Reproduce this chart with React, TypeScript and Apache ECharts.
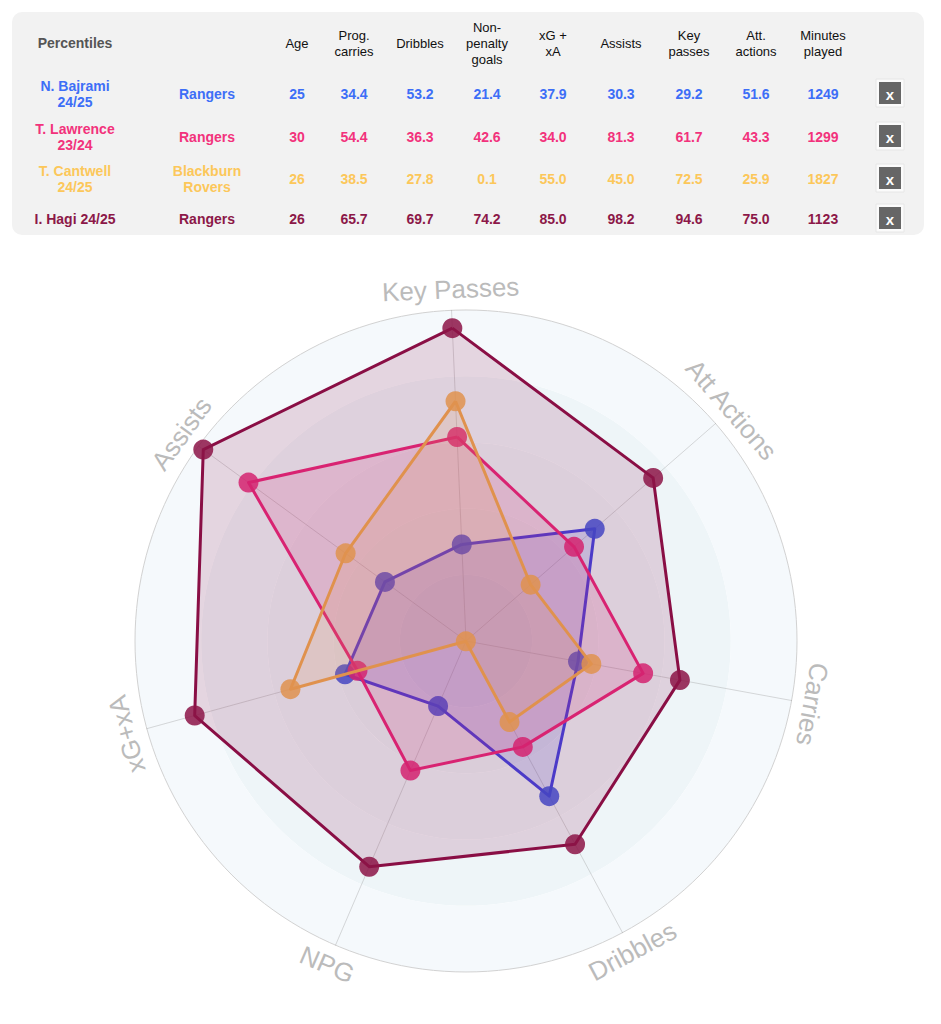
import React, { useEffect, useRef } from "react";
import * as echarts from "echarts";

// ---------- data ----------
const players = ["N. Bajrami\n24/25", "T. Lawrence\n23/24", "T. Cantwell\n24/25", "I. Hagi 24/25"];
const teams = ["Rangers", "Rangers", "Blackburn\nRovers", "Rangers"];
const ages = [25, 30, 26, 26];
const progCarries = [34.4, 54.4, 38.5, 65.7];
const dribbles = [53.2, 36.3, 27.8, 69.7];
const npg = [21.4, 42.6, 0.1, 74.2];
const xgxa = [37.9, 34.0, 55.0, 85.0];
const assists = [30.3, 81.3, 45.0, 98.2];
const keyPasses = [29.2, 61.7, 72.5, 94.6];
const attActions = [51.6, 43.3, 25.9, 75.0];
const minutes = [1249, 1299, 1827, 1123];
const headers = ["Age", "Prog.\ncarries", "Dribbles", "Non-\npenalty\ngoals", "xG +\nxA", "Assists", "Key\npasses", "Att.\nactions", "Minutes\nplayed"];
const radarNames = ["Key Passes", "Assists", "xG+xA", "NPG", "Dribbles", "Carries", "Att Actions"];

// ---------- styling ----------
const textColors = ["#3d6ef7", "#f2327c", "#fcc75a", "#8c1848"];
const lineColors = ["#4144e0", "#e8287a", "#f0aa50", "#8a0f45"];
const pointColors = ["rgba(58,80,216,0.85)", "rgba(226,40,120,0.85)", "rgba(240,170,80,0.85)", "rgba(140,20,70,0.85)"];
const areaColors = ["rgba(65,68,224,0.22)", "rgba(232,40,122,0.22)", "rgba(240,170,80,0.22)", "rgba(138,15,69,0.22)"];

const FONT = "'Liberation Sans', Arial, Helvetica, sans-serif";
const CX = 466;
const CY = 641;
const R = 331;
const START = 92.5;
const LABEL_R = 352;

const colX = [297, 354, 420, 487, 553, 621, 689, 756, 823];
const rowY = [94, 137, 179, 219];

function buildGraphic() {
  const g: any[] = [];
  g.push({
    type: "rect",
    shape: { x: 12, y: 12, width: 912, height: 223, r: 10 },
    style: { fill: "#f2f2f2" },
    silent: true,
  });
  g.push({
    type: "text",
    x: 75,
    y: 43,
    style: { text: "Percentiles", fill: "#555", font: `bold 14px ${FONT}`, align: "center", verticalAlign: "middle" },
  });
  headers.forEach((h, i) => {
    g.push({
      type: "text",
      x: colX[i],
      y: 43,
      style: { text: h, fill: "#111", font: `13px ${FONT}`, align: "center", verticalAlign: "middle", lineHeight: 16 },
    });
  });
  players.forEach((p, r) => {
    const y = rowY[r];
    const fill = textColors[r];
    const base = { fill, font: `bold 14px ${FONT}`, align: "center", verticalAlign: "middle", lineHeight: 16 };
    g.push({ type: "text", x: 75, y, style: { ...base, text: p } });
    g.push({ type: "text", x: 207, y, style: { ...base, text: teams[r] } });
    const vals = [
      String(ages[r]),
      progCarries[r].toFixed(1),
      dribbles[r].toFixed(1),
      npg[r].toFixed(1),
      xgxa[r].toFixed(1),
      assists[r].toFixed(1),
      keyPasses[r].toFixed(1),
      attActions[r].toFixed(1),
      String(minutes[r]),
    ];
    vals.forEach((v, i) => {
      g.push({ type: "text", x: colX[i], y, style: { ...base, text: v } });
    });
    const by = [93, 136, 178, 218][r];
    g.push({
      type: "rect",
      shape: { x: 890 - 14, y: by - 14, width: 28, height: 28 },
      style: { fill: "#fbfbfb", stroke: "#e6e6e6", lineWidth: 1 },
    });
    g.push({
      type: "rect",
      shape: { x: 890 - 11, y: by - 11, width: 22, height: 22 },
      style: { fill: "#666" },
    });
    g.push({
      type: "text",
      x: 890,
      y: by + 1,
      style: { text: "x", fill: "#fff", font: `bold 15px ${FONT}`, align: "center", verticalAlign: "middle" },
    });
  });
  // radar axis names, tangent to the circle
  radarNames.forEach((n, i) => {
    const th = START + (i * 360) / radarNames.length;
    const rad = (th * Math.PI) / 180;
    let cw = 90 - th;
    while (cw > 180) cw -= 360;
    while (cw <= -180) cw += 360;
    if (cw > 120) cw -= 180;
    if (cw < -120) cw += 180;
    g.push({
      type: "text",
      x: CX + LABEL_R * Math.cos(rad),
      y: CY - LABEL_R * Math.sin(rad),
      rotation: (-cw * Math.PI) / 180,
      style: { text: n, fill: "#bbbbbb", font: `26px ${FONT}`, align: "center", verticalAlign: "middle" },
    });
  });
  return g;
}

export default function App() {
  const ref = useRef<HTMLDivElement>(null);
  useEffect(() => {
    if (!ref.current) return;
    const chart = echarts.init(ref.current, undefined, { renderer: "svg" });
    const series = players.map((p, i) => ({
      type: "radar",
      name: p.replace("\n", " "),
      symbol: "circle",
      symbolSize: 20,
      z: 2 + i,
      lineStyle: { color: lineColors[i], width: 3 },
      itemStyle: { color: pointColors[i] },
      areaStyle: { color: areaColors[i] },
      data: [
        {
          value: [keyPasses[i], assists[i], xgxa[i], npg[i], dribbles[i], progCarries[i], attActions[i]],
          name: p.replace("\n", " "),
        },
      ],
    }));
    chart.setOption({
      animation: false,
      backgroundColor: "#ffffff",
      radar: {
        center: [CX, CY],
        radius: R,
        startAngle: START,
        shape: "circle",
        splitNumber: 5,
        indicator: radarNames.map((n) => ({ name: n, min: 0, max: 100 })),
        axisName: { show: false },
        splitArea: {
          show: true,
          areaStyle: { color: ["#e6edf2", "#e9f0f4", "#ebf2f6", "#eef5f8", "#f5f9fc"] },
        },
        splitLine: {
          lineStyle: { color: ["rgba(0,0,0,0)", "rgba(0,0,0,0)", "rgba(0,0,0,0)", "rgba(0,0,0,0)", "rgba(0,0,0,0)", "#d2d2d2"], width: 1 },
        },
        axisLine: { lineStyle: { color: "rgba(150,150,150,0.35)", width: 1 } },
        axisTick: { show: false },
        axisLabel: { show: false },
      },
      series,
      graphic: buildGraphic(),
    });
    return () => chart.dispose();
  }, []);
  return <div ref={ref} style={{ position: "absolute", left: 0, top: 0, width: 941, height: 1024 }} />;
}
